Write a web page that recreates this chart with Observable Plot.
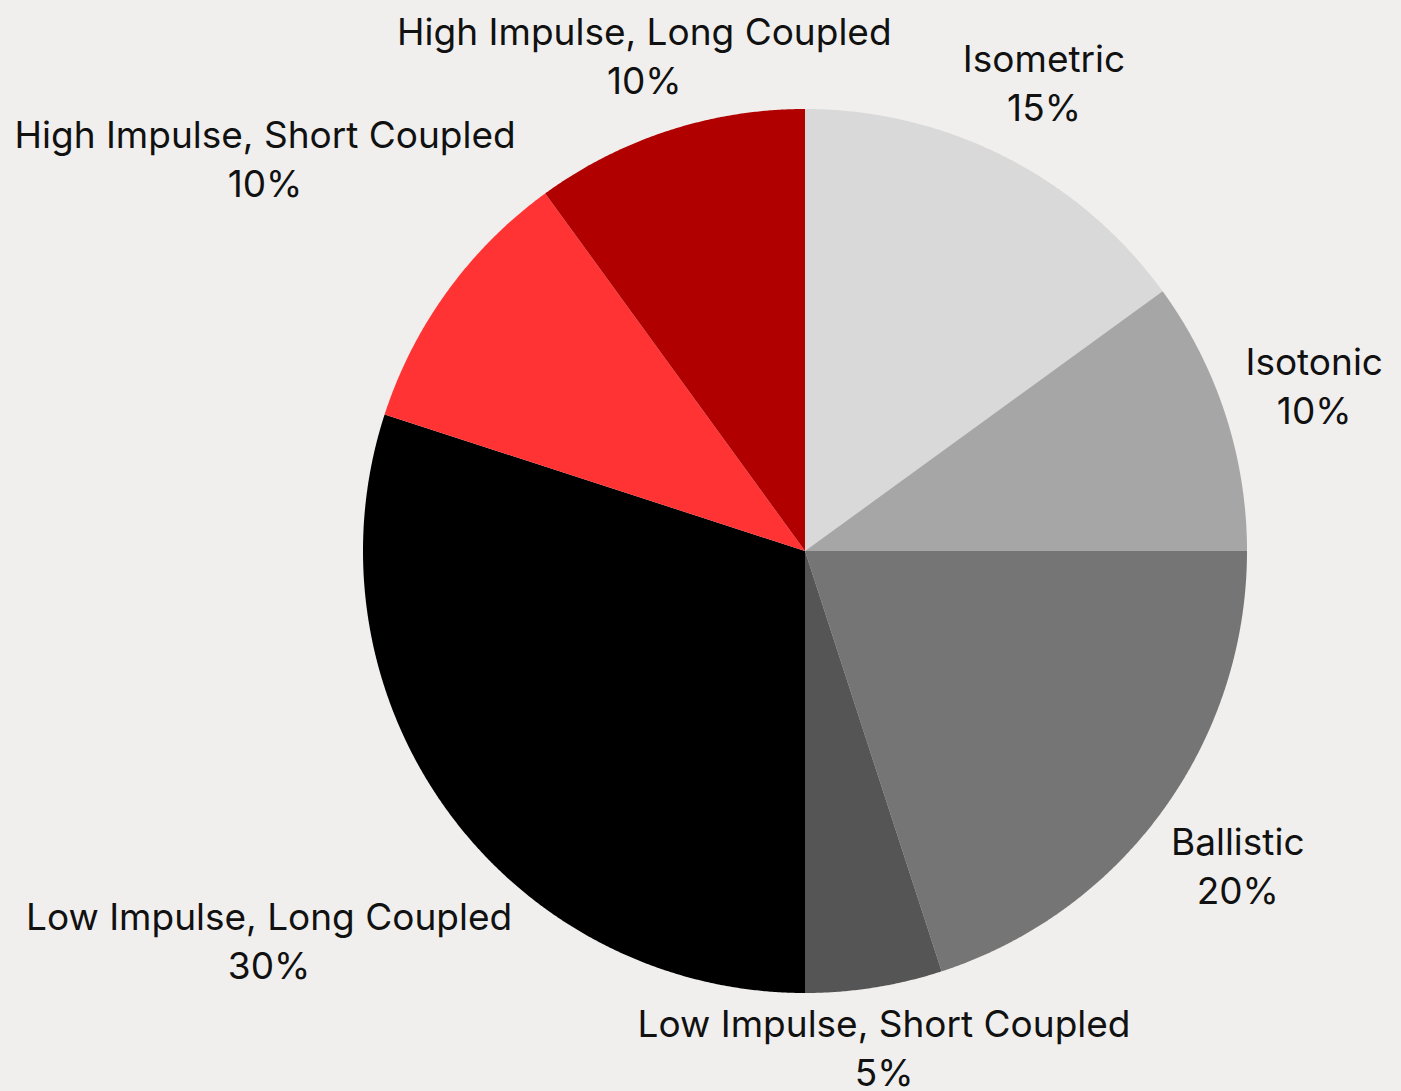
<!DOCTYPE html>
<html>
<head>
<meta charset="utf-8">
<script src="https://cdn.jsdelivr.net/npm/d3@7"></script>
<script src="https://cdn.jsdelivr.net/npm/@observablehq/plot@0.6"></script>
<style>
  html, body { margin: 0; padding: 0; background: #f0efed; overflow: hidden; }
  #chart svg { display: block; }
</style>
</head>
<body>
<div id="chart"></div>
<script>
// ---- data ----
const categories = [
  "Isometric",
  "Isotonic",
  "Ballistic",
  "Low Impulse, Short Coupled",
  "Low Impulse, Long Coupled",
  "High Impulse, Short Coupled",
  "High Impulse, Long Coupled"
];
const shares = [15, 10, 20, 5, 30, 10, 10];
const palette = ["#d9d9d9", "#a6a6a6", "#757575", "#555555", "#000000", "#ff3333", "#b00000"];

// ---- layout ----
const W = 1401, H = 1091;
const cx = 805, cy = 551, R = 442;
const FONT_FAMILY = "Inter, 'Open Sans', sans-serif";
const FONT_SIZE = 37;
const LINE = 49;          // px between the two label baselines
const GAP = 458;          // distance from pie centre to nearest edge of a label block

const rows = categories.map((c, i) => ({category: c, share: shares[i]}));
const arcs = d3.pie().sort(null).value(d => d.share)(rows);

// wedge outlines sampled along the arc
const wedges = [];
for (const a of arcs) {
  const n = Math.max(2, Math.ceil((a.endAngle - a.startAngle) / (Math.PI / 720)));
  for (let k = 0; k <= n; k++) {
    const t = a.startAngle + (a.endAngle - a.startAngle) * k / n;
    wedges.push({
      category: a.data.category,
      x1: cx, y1: cy,
      x2: cx + R * Math.sin(t),
      y2: cy - R * Math.cos(t)
    });
  }
}

// label placement: push each label block outward along the slice's mid-angle
const ctx = document.createElement("canvas").getContext("2d");
ctx.font = `${FONT_SIZE}px ${FONT_FAMILY}`;
const capH = ctx.measureText("H").actualBoundingBoxAscent || 0.71 * FONT_SIZE;
const labels = arcs.map(a => {
  const pct = `${a.data.share}%`;
  const w = Math.max(ctx.measureText(a.data.category).width, ctx.measureText(pct).width);
  const hw = w / 2, hh = (capH + LINE) / 2;
  const mid = (a.startAngle + a.endAngle) / 2;
  const ux = Math.sin(mid), uy = -Math.cos(mid);
  const dist = t => Math.hypot(Math.max(Math.abs(t * ux) - hw, 0), Math.max(Math.abs(t * uy) - hh, 0));
  let lo = 0, hi = 3000;
  for (let i = 0; i < 60; i++) {
    const m = (lo + hi) / 2;
    if (dist(m) < GAP) lo = m; else hi = m;
  }
  const t = (lo + hi) / 2;
  return {
    category: a.data.category,
    text: a.data.category + "\n" + pct,
    x: cx + t * ux,
    y: cy + t * uy + hh   // baseline of the second line
  };
});

const chart = Plot.plot({
  width: W,
  height: H,
  margin: 0,
  x: {domain: [0, W], range: [0, W], axis: null},
  y: {domain: [0, H], range: [0, H], axis: null},
  color: {domain: categories, range: palette},
  style: {background: "#f0efed", fontFamily: FONT_FAMILY, overflow: "visible"},
  marks: [
    Plot.area(wedges, {x1: "x1", y1: "y1", x2: "x2", y2: "y2", z: "category", fill: "category"}),
    Plot.text(labels, {
      x: "x", y: "y", text: "text",
      textAnchor: "middle", lineAnchor: "bottom",
      lineHeight: LINE / FONT_SIZE,
      fontSize: FONT_SIZE, fill: "#111111"
    })
  ]
});
document.getElementById("chart").appendChild(chart);
</script>
</body>
</html>
